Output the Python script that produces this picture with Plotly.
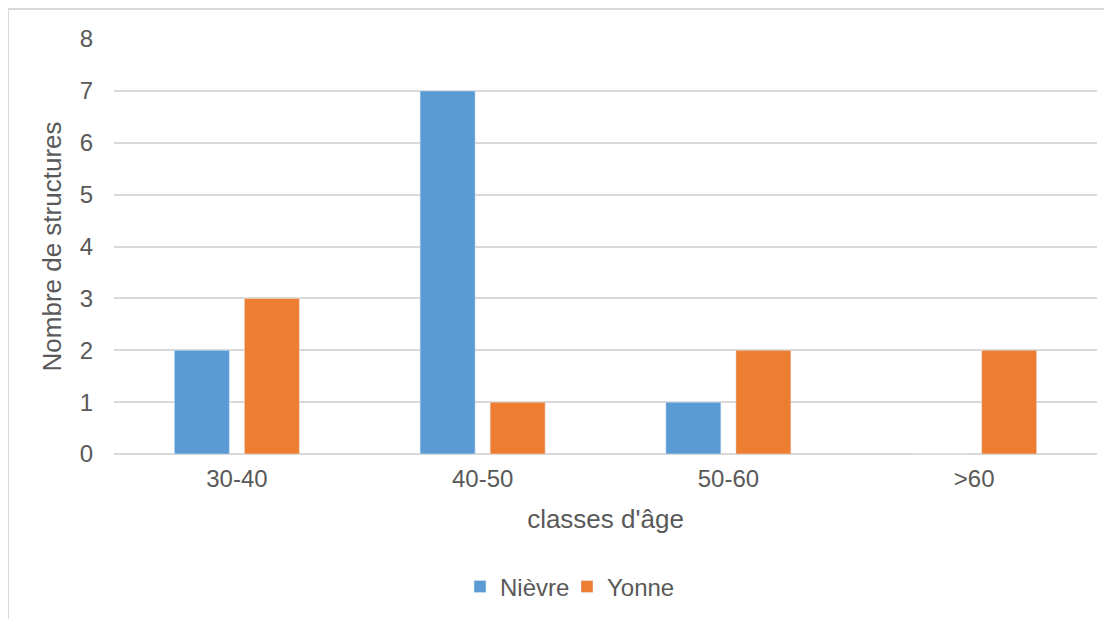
import plotly.graph_objects as go

categories = ["30-40", "40-50", "50-60", ">60"]
nievre = [2, 7, 1, 0]
yonne = [3, 1, 2, 2]

# the page has an 8px body margin, so the figure is a bit smaller and shifted
OFF = 8
W, H = 1112 - OFF, 619 - OFF
L, T = 114 - OFF, 39 - OFF
pw, ph = 983, 415
R, B = W - L - pw, H - T - ph

def px_x(p):
    return (p - OFF - L) / pw

def px_y(p):
    return (T + ph - (p - OFF)) / ph

fig = go.Figure()
fig.add_trace(go.Bar(x=categories, y=nievre, name="Nièvre", marker_color="#5b9bd5"))
fig.add_trace(go.Bar(x=categories, y=yonne, name="Yonne", marker_color="#ed7d31"))

grey = "#595959"
fig.update_layout(
    width=W, height=H,
    margin=dict(l=L, r=R, t=T, b=B, autoexpand=False),
    paper_bgcolor="white", plot_bgcolor="white",
    font=dict(family="Liberation Sans, Arial, sans-serif", color=grey, size=24),
    barmode="group", bargap=0.43, bargroupgap=0.214,
    xaxis=dict(
        title=dict(text="classes d'âge", font=dict(size=26), standoff=18),
        showgrid=False, showline=False, ticks="", tickfont=dict(size=24),
        ticklabelstandoff=8,
    ),
    yaxis=dict(
        title=dict(text="Nombre de structures", font=dict(size=26), standoff=10),
        range=[0, 8], dtick=1, gridcolor="#d9d9d9", gridwidth=1.5,
        zeroline=True, zerolinecolor="#d9d9d9", zerolinewidth=1.5,
        showline=False, ticks="", ticklabelstandoff=20, tickfont=dict(size=24),
    ),
    legend=dict(
        orientation="h", x=px_x(460), xanchor="left", y=px_y(587), yanchor="middle",
        font=dict(size=24), entrywidth=62, entrywidthmode="pixels",
        traceorder="normal",
    ),
    showlegend=True,
)

# chart border (partly cropped in the original)
border = dict(color="#d9d9d9", width=2)
fig.add_shape(type="line", xref="paper", yref="paper",
              x0=px_x(8), x1=px_x(1300), y0=px_y(9), y1=px_y(9), line=border)
fig.add_shape(type="line", xref="paper", yref="paper",
              x0=px_x(8), x1=px_x(8), y0=px_y(9), y1=px_y(800), line=border)

fig.write_html("out.html")
